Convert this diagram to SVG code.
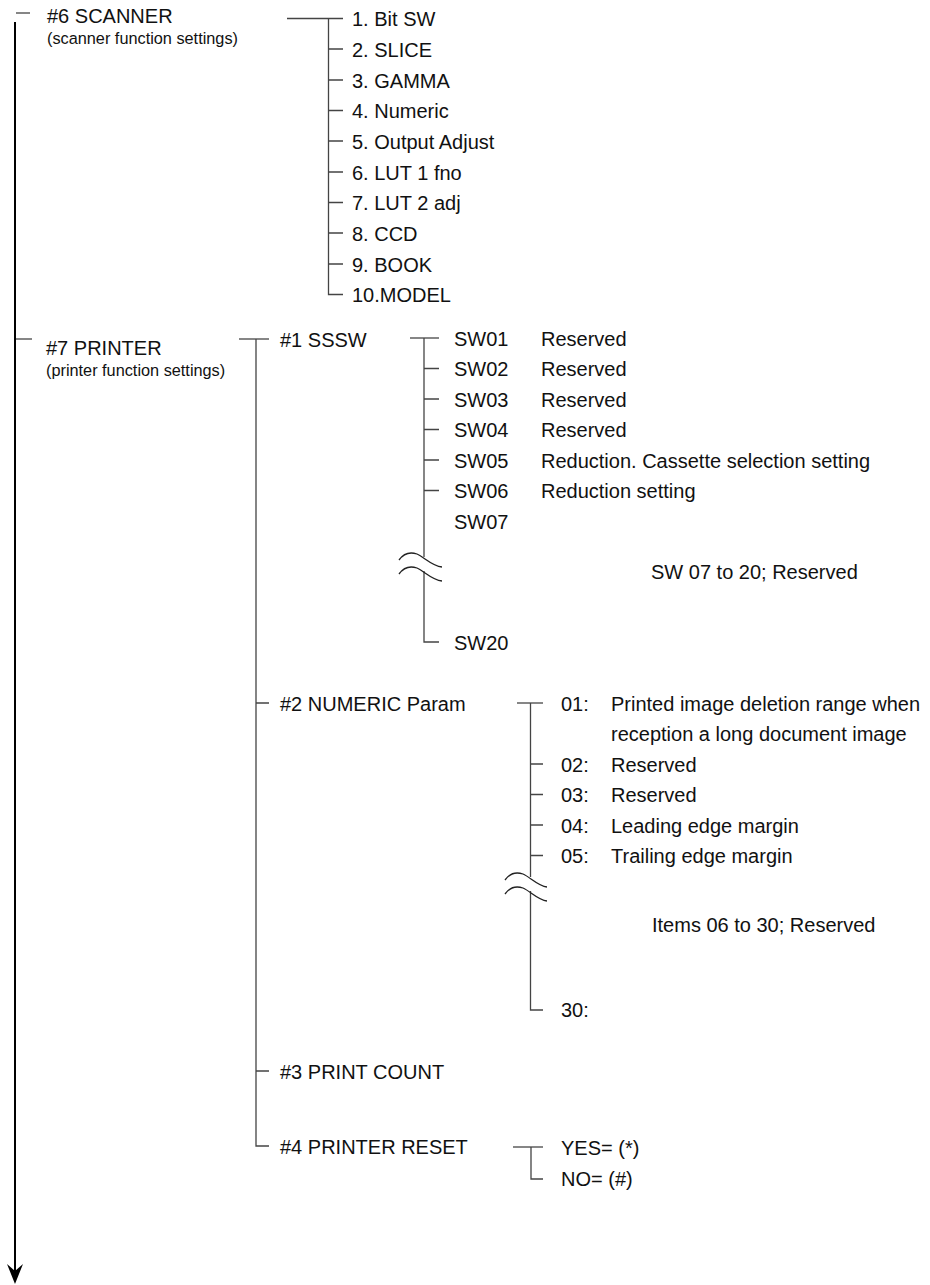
<svg xmlns="http://www.w3.org/2000/svg" width="930" height="1285" viewBox="0 0 930 1285">
<style>
text{font-family:"Liberation Sans",Arial,sans-serif;font-size:20px;fill:#111}
.sub{font-size:16.3px}
.ln{stroke:#444;stroke-width:1.3;fill:none}
.main{stroke:#000;stroke-width:2;fill:none}
.wv{stroke:#222;stroke-width:1.3;fill:none}
</style>
<rect width="930" height="1285" fill="#fff"/>
<g id="connectors">
  <line class="main" x1="15" y1="22" x2="15" y2="1272"/>
  <polygon points="15,1284 7,1264 15,1271 23,1264" fill="#000"/>
  <line class="ln" x1="16" y1="13" x2="30" y2="13"/>
  <line class="ln" x1="16" y1="339" x2="32" y2="339"/>
  <!-- scanner tree -->
  <line class="ln" x1="287" y1="18.5" x2="343" y2="18.5"/>
  <path class="ln" d="M328.5,18.5 V294.5 H343"/>
  <path class="ln" d="M328.5,49 H343 M328.5,80 H343 M328.5,110.5 H343 M328.5,141 H343 M328.5,172 H343 M328.5,202.5 H343 M328.5,233 H343 M328.5,264 H343"/>
  <!-- printer tree -->
  <line class="ln" x1="239" y1="339" x2="269" y2="339"/>
  <path class="ln" d="M256,339 V1146 H269"/>
  <path class="ln" d="M256,703 H269 M256,1071 H269"/>
  <!-- SSSW tree -->
  <line class="ln" x1="410" y1="338" x2="439" y2="338"/>
  <path class="ln" d="M424,338 V557"/>
  <path class="ln" d="M424,571 V642 H439"/>
  <path class="ln" d="M424,368.5 H439 M424,399 H439 M424,429.5 H439 M424,460 H439 M424,490.5 H439"/>
  <path class="wv" d="M399,560 C404,553 411,552 417,554 C424,557 432,566 442,567"/>
  <path class="wv" d="M399,574 C404,567 411,566 417,568 C424,571 432,580 442,581"/>
  <!-- numeric tree -->
  <line class="ln" x1="517" y1="703" x2="543" y2="703"/>
  <path class="ln" d="M530.5,703 V877"/>
  <path class="ln" d="M530.5,891 V1010 H543"/>
  <path class="ln" d="M530.5,764 H543 M530.5,794.5 H543 M530.5,825 H543 M530.5,855.5 H543"/>
  <path class="wv" d="M505,880 C510,873 517,872 523,874 C530,877 538,886 547,887"/>
  <path class="wv" d="M505,894 C510,887 517,886 523,888 C530,891 538,900 547,901"/>
  <!-- reset tree -->
  <line class="ln" x1="513" y1="1147" x2="543" y2="1147"/>
  <path class="ln" d="M531,1147 V1179 H543"/>
</g>
<g id="scanner">
  <text x="47" y="23">#6 SCANNER</text>
  <text class="sub" x="47" y="44">(scanner function settings)</text>
</g>
<g id="scanner-items">
  <text x="352" y="26">1. Bit SW</text>
  <text x="352" y="56.5">2. SLICE</text>
  <text x="352" y="87.5">3. GAMMA</text>
  <text x="352" y="118">4. Numeric</text>
  <text x="352" y="148.5">5. Output Adjust</text>
  <text x="352" y="179.5">6. LUT 1 fno</text>
  <text x="352" y="210">7. LUT 2 adj</text>
  <text x="352" y="240.5">8. CCD</text>
  <text x="352" y="271.5">9. BOOK</text>
  <text x="352" y="302">10.MODEL</text>
</g>
<g id="printer">
  <text x="46" y="355">#7 PRINTER</text>
  <text class="sub" x="46" y="376">(printer function settings)</text>
</g>
<g id="sssw">
  <text x="280" y="346.5">#1 SSSW</text>
</g>
<g id="sssw-items">
  <text x="454" y="345.5">SW01</text><text x="541" y="345.5">Reserved</text>
  <text x="454" y="376">SW02</text><text x="541" y="376">Reserved</text>
  <text x="454" y="406.5">SW03</text><text x="541" y="406.5">Reserved</text>
  <text x="454" y="437">SW04</text><text x="541" y="437">Reserved</text>
  <text x="454" y="467.5">SW05</text><text x="541" y="467.5">Reduction. Cassette selection setting</text>
  <text x="454" y="498">SW06</text><text x="541" y="498">Reduction setting</text>
  <text x="454" y="528.5">SW07</text>
  <text x="651" y="579">SW 07 to 20; Reserved</text>
  <text x="454" y="649.5">SW20</text>
</g>
<g id="numeric">
  <text x="280" y="710.5">#2 NUMERIC Param</text>
</g>
<g id="numeric-items">
  <text x="561" y="710.5">01:</text><text x="611" y="710.5">Printed image deletion range when</text>
  <text x="611" y="741">reception a long document image</text>
  <text x="561" y="771.5">02:</text><text x="611" y="771.5">Reserved</text>
  <text x="561" y="802">03:</text><text x="611" y="802">Reserved</text>
  <text x="561" y="832.5">04:</text><text x="611" y="832.5">Leading edge margin</text>
  <text x="561" y="863">05:</text><text x="611" y="863">Trailing edge margin</text>
  <text x="652" y="932">Items 06 to 30; Reserved</text>
  <text x="561" y="1017">30:</text>
</g>
<g id="print-count">
  <text x="280" y="1078.5">#3 PRINT COUNT</text>
</g>
<g id="printer-reset">
  <text x="280" y="1153.5">#4 PRINTER RESET</text>
</g>
<g id="reset-items">
  <text x="561" y="1154.5">YES= (*)</text>
  <text x="561" y="1186">NO= (#)</text>
</g>
</svg>
